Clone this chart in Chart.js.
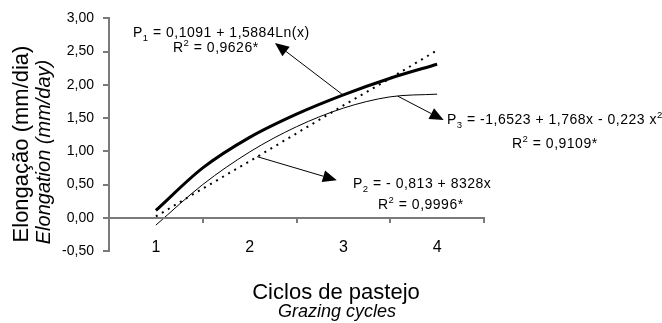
<!DOCTYPE html>
<html>
<head>
<meta charset="utf-8">
<script src="https://cdn.jsdelivr.net/npm/chart.js@4.4.1/dist/chart.umd.min.js"></script>
<style>
  body { margin: 0; background: #fff; }
  #wrap { width: 662px; height: 323px; position: relative; }
</style>
</head>
<body>
<div id="wrap"><canvas id="grafico"></canvas></div>
<script>
// dados
var ciclos = [1, 1.5, 2, 2.5, 3, 3.5, 4];
var p1 = [0.11, 0.75, 1.21, 1.56, 1.85, 2.10, 2.31];
var p2 = [0.02, 0.44, 0.85, 1.27, 1.69, 2.10, 2.52];
var p3 = [-0.11, 0.50, 0.99, 1.37, 1.65, 1.82, 1.86];
var rotulosX = ['1', '2', '3', '4'];
var yMin = -0.5, yMax = 3, yPasso = 0.5;
var xMin = 0.5, xMax = 4.5;

var FONTE = '"Liberation Sans", Arial, Helvetica, sans-serif';
var corEixo = '#7a7a7a';

// equações e setas (setas em valores dos eixos)
var notas = [
    { linhas: [
        { x: 133, y: 37, partes: [{t: 'P'}, {t: '1', s: 'sub'}, {t: ' = 0,1091 + 1,5884Ln(x)'}] },
        { x: 173, y: 52, partes: [{t: 'R'}, {t: '2', s: 'sup'}, {t: ' = 0,9626*'}] }
      ],
      seta: { de: [2.985, 1.86], para: [2.27, 2.63] } },
    { linhas: [
        { x: 353, y: 188, partes: [{t: 'P'}, {t: '2', s: 'sub'}, {t: ' = - 0,813 + 8328x'}] },
        { x: 378, y: 209, partes: [{t: 'R'}, {t: '2', s: 'sup'}, {t: ' = 0,9996*'}] }
      ],
      seta: { de: [2.08, 0.92], para: [2.93, 0.565] } },
    { linhas: [
        { x: 447, y: 124, partes: [{t: 'P'}, {t: '3', s: 'sub'}, {t: ' = -1,6523 + 1,768x - 0,223 x'}, {t: '2', s: 'sup'}] },
        { x: 512, y: 148, partes: [{t: 'R'}, {t: '2', s: 'sup'}, {t: ' = 0,9109*'}] }
      ],
      seta: { de: [3.58, 1.83], para: [4.07, 1.47] } }
];

function pontos(ys) {
    return ciclos.map(function (c, i) { return { x: c, y: ys[i] }; });
}

function textoRico(ctx, x, y, partes, tam) {
    var cx = x;
    ctx.letterSpacing = '0.5px';
    partes.forEach(function (p) {
        var fs = p.s ? tam * 0.68 : tam;
        ctx.font = fs + 'px ' + FONTE;
        var dy = p.s === 'sub' ? tam * 0.28 : (p.s === 'sup' ? -tam * 0.42 : 0);
        ctx.fillText(p.t, cx, y + dy);
        cx += ctx.measureText(p.t).width;
    });
    ctx.letterSpacing = '0px';
}

function seta(ctx, x1, y1, x2, y2) {
    var ang = Math.atan2(y2 - y1, x2 - x1);
    var comp = 14, larg = 6;
    var bx = x2 - comp * Math.cos(ang), by = y2 - comp * Math.sin(ang);
    ctx.beginPath();
    ctx.moveTo(x1, y1);
    ctx.lineTo(bx, by);
    ctx.lineWidth = 1;
    ctx.strokeStyle = '#000';
    ctx.setLineDash([]);
    ctx.stroke();
    ctx.beginPath();
    ctx.moveTo(x2, y2);
    ctx.lineTo(bx + larg * Math.sin(ang), by - larg * Math.cos(ang));
    ctx.lineTo(bx - larg * Math.sin(ang), by + larg * Math.cos(ang));
    ctx.closePath();
    ctx.fillStyle = '#000';
    ctx.fill();
}

// linhas dos eixos e marcas, posicionadas pelas escalas do Chart.js
function eixos(ctx, sx, sy) {
    var esq = Math.round(sx.getPixelForValue(xMin));
    var dir = Math.round(sx.getPixelForValue(xMax));
    var zero = Math.round(sy.getPixelForValue(0));
    var topo = Math.round(sy.getPixelForValue(yMax));
    var base = Math.round(sy.getPixelForValue(yMin));
    ctx.save();
    ctx.globalAlpha = 1;
    ctx.globalCompositeOperation = 'source-over';
    ctx.fillStyle = corEixo;
    ctx.fillRect(esq - 1, topo - 1, 2, base - topo + 2);
    sy.ticks.forEach(function (t) {
        var py = Math.round(sy.getPixelForValue(t.value));
        ctx.fillRect(esq - 6, py - 1, 6, 2);
    });
    ctx.fillRect(esq - 1, zero - 1, dir - esq + 2, 2);
    sx.ticks.forEach(function (t) {
        if (Number.isInteger(t.value)) return;
        var px = Math.round(sx.getPixelForValue(t.value));
        ctx.fillRect(px - 1, zero, 2, 5);
    });
    ctx.restore();
}

var anotacoes = {
    id: 'anotacoes',
    afterDraw: function (chart) {
        var ctx = chart.ctx;
        var sx = chart.scales.x, sy = chart.scales.y;
        eixos(ctx, sx, sy);

        ctx.save();
        ctx.fillStyle = '#000';
        ctx.textBaseline = 'alphabetic';
        ctx.textAlign = 'left';
        notas.forEach(function (n) {
            n.linhas.forEach(function (l) { textoRico(ctx, l.x, l.y, l.partes, 14); });
            seta(ctx, sx.getPixelForValue(n.seta.de[0]), sy.getPixelForValue(n.seta.de[1]),
                sx.getPixelForValue(n.seta.para[0]), sy.getPixelForValue(n.seta.para[1]));
        });

        // títulos dos eixos
        ctx.fillStyle = '#000';
        ctx.textAlign = 'center';
        ctx.font = '22px ' + FONTE;
        ctx.fillText('Ciclos de pastejo', 336, 299);
        ctx.font = 'italic 18px ' + FONTE;
        ctx.fillText('Grazing cycles', 337, 317);

        ctx.save();
        ctx.translate(28, 144);
        ctx.rotate(-Math.PI / 2);
        ctx.font = '22px ' + FONTE;
        ctx.fillText('Elongação (mm/dia)', 0, 0);
        ctx.restore();

        ctx.save();
        ctx.translate(50, 152);
        ctx.rotate(-Math.PI / 2);
        ctx.font = 'italic 20px ' + FONTE;
        ctx.fillText('Elongation (mm/day)', 0, 0);
        ctx.restore();
        ctx.restore();
    }
};

var grafico = new Chart(document.getElementById('grafico'), {
    type: 'line',
    data: {
        datasets: [{
            label: 'P1',
            data: pontos(p1),
            borderColor: '#000',
            borderWidth: 3,
            pointRadius: 0,
            cubicInterpolationMode: 'monotone',
            fill: false
        }, {
            label: 'P2',
            data: pontos(p2),
            borderColor: '#000',
            borderWidth: 2,
            borderDash: [2, 5],
            pointRadius: 0,
            fill: false
        }, {
            label: 'P3',
            data: pontos(p3),
            borderColor: '#000',
            borderWidth: 1,
            pointRadius: 0,
            cubicInterpolationMode: 'monotone',
            fill: false
        }]
    },
    options: {
        responsive: true,
        maintainAspectRatio: false,
        animation: false,
        layout: { padding: { top: 14, right: 178, bottom: 72, left: 0 } },
        plugins: { legend: { display: false }, tooltip: { enabled: false } },
        scales: {
            x: {
                type: 'linear',
                position: { y: 0 },
                min: xMin,
                max: xMax,
                afterFit: function (scale) { scale.height = 0; },
                ticks: {
                    stepSize: 0.5,
                    padding: 15,
                    color: '#000',
                    font: { family: FONTE, size: 16 },
                    callback: function (v) {
                        return Number.isInteger(v) ? rotulosX[v - 1] : '';
                    }
                },
                grid: { drawOnChartArea: false, tickLength: 5, color: 'rgba(0,0,0,0)' },
                border: { display: false }
            },
            y: {
                min: yMin,
                max: yMax,
                afterFit: function (scale) { scale.width = 109; },
                ticks: {
                    stepSize: yPasso,
                    padding: 10,
                    color: '#000',
                    font: { family: FONTE, size: 14 },
                    callback: function (v) { return v.toFixed(2).replace('.', ','); }
                },
                grid: { drawOnChartArea: false, tickLength: 5, color: 'rgba(0,0,0,0)' },
                border: { display: false }
            }
        }
    },
    plugins: [anotacoes]
});
</script>
</body>
</html>
